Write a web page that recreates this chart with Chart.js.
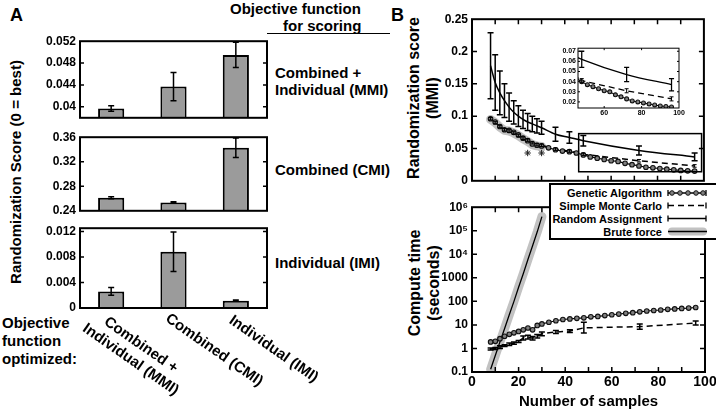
<!DOCTYPE html>
<html>
<head>
<meta charset="utf-8">
<script src="https://cdn.jsdelivr.net/npm/chart.js@4.4.1/dist/chart.umd.min.js"></script>
<style>
  body { margin: 0; width: 716px; height: 412px; overflow: hidden; background: #fff; position: relative;
         font-family: 'Liberation Sans', Arial, sans-serif; font-weight: bold; color: #000; }
  canvas { position: absolute; }
  .t { position: absolute; white-space: nowrap; font-weight: bold; font-size: 15px; line-height: 17px; }
  .rot { position: absolute; white-space: nowrap; text-align: center; transform: translate(-50%, -50%) rotate(-90deg); }
  #legend { position: absolute; left: 549px; top: 183px; width: 175px; height: 53px; border: 2px solid #000;
            background: #fff; font-size: 11px; line-height: 13px; }
  #legend .row { position: absolute; left: 0; width: 111px; text-align: right; }
</style>
</head>
<body>

<div class="t" style="left:10px;top:5px;font-size:18px;line-height:20px">A</div>
<div class="t" style="left:391px;top:5px;font-size:18px;line-height:20px">B</div>

<div class="t" style="left:230px;top:0px">Objective function</div>
<div class="t" style="left:283px;top:17px">for scoring</div>
<div style="position:absolute;left:267px;top:33px;width:123px;border-top:1.5px solid #000"></div>
<div class="t" style="left:275px;top:64px">Combined +</div>
<div class="t" style="left:275px;top:81px">Individual (MMI)</div>
<div class="t" style="left:275px;top:161px">Combined (CMI)</div>
<div class="t" style="left:275px;top:254px">Individual (IMI)</div>
<div class="t" style="left:2px;top:314px;line-height:17.8px">Objective<br>function<br>optimized:</div>

<div class="rot" style="left:15px;top:172px;font-size:15px">Randomization Score (0 = best)</div>
<div class="rot" style="left:423px;top:98px;font-size:16px;line-height:19px">Randomization score<br>(MMI)</div>
<div class="rot" style="left:424px;top:283px;font-size:16px;line-height:19px">Compute time<br>(seconds)</div>

<script>
// ---------- Panel A: bar data ----------
const barGroups = ['MMI', 'CMI', 'IMI'];
const barLabelLines = [['Combined +', 'Individual (MMI)'], ['Combined (CMI)'], ['Individual (IMI)']];

const mmiScore = [0.0397, 0.0437, 0.0495];
const mmiErr = [0.0005, 0.0026, 0.0023];
const cmiScore = [0.2613, 0.2537, 0.3427];
const cmiErr = [0.0018, 0.0012, 0.016];
const imiScore = [0.0026, 0.0088, 0.00115];
const imiErr = [0.0006, 0.0031, 0.0001];

const mmiTicks = [0.04, 0.044, 0.048, 0.052];
const mmiTickLabels = ['0.04', '0.044', '0.048', '0.052'];
const cmiTicks = [0.24, 0.28, 0.32, 0.36];
const cmiTickLabels = ['0.24', '0.28', '0.32', '0.36'];
const imiTicks = [0, 0.004, 0.008, 0.012];
const imiTickLabels = ['0', '0.004', '0.008', '0.012'];

// ---------- Panel B: randomization score ----------
const randX = [8, 10, 12, 14, 16, 18, 20, 22, 24, 26, 28, 30, 36, 42, 48, 72, 96];
const randScore = [0.178, 0.152, 0.136, 0.124, 0.114, 0.106, 0.100, 0.095, 0.091, 0.088, 0.085, 0.082, 0.072, 0.067, 0.062, 0.047, 0.037];
const randErr = [0.051, 0.043, 0.034, 0.026, 0.022, 0.018, 0.016, 0.014, 0.013, 0.012, 0.011, 0.010, 0.011, 0.009, 0.008, 0.007, 0.006];

const mcScore = [0.096, 0.090, 0.084, 0.079, 0.077, 0.074, 0.070, 0.066, 0.063, 0.059, 0.056, 0.055, 0.049, 0.046, 0.041, 0.031, 0.023];
const mcScoreErr = [0.002, 0.002, 0.002, 0.002, 0.002, 0.002, 0.002, 0.002, 0.002, 0.002, 0.002, 0.002, 0.002, 0.002, 0.002, 0.002, 0.002];

const gaX = [8, 10, 12, 14, 16, 18, 20, 22, 24, 26, 28, 30, 33, 36, 39, 42, 45, 48, 51, 54, 57, 60, 63, 66, 69, 72, 75, 78, 81, 84, 87, 90, 93, 96];
const gaScore = [0.096, 0.091, 0.084, 0.079, 0.078, 0.075, 0.071, 0.066, 0.062, 0.057, 0.055, 0.054, 0.051, 0.048, 0.046, 0.045, 0.043,
                 0.040, 0.037, 0.035, 0.033, 0.031, 0.030, 0.027, 0.025, 0.023, 0.021, 0.020, 0.019, 0.018, 0.017, 0.016, 0.0155, 0.015];

const bruteX = [8, 10, 12, 14, 16, 18, 20, 22, 24, 26, 28, 30];
const bruteScore = [0.095, 0.090, 0.083, 0.078, 0.077, 0.074, 0.070, 0.065, 0.061, 0.056, 0.054, 0.053];

const starX = [24, 30];
const starY = [0.043, 0.043];

const scoreTicks = [0, 0.05, 0.1, 0.15, 0.2, 0.25];
const scoreTickLabels = ['0', '0.05', '0.1', '0.15', '0.2', '0.25'];
const insetYTicks = [0.02, 0.03, 0.04, 0.05, 0.06, 0.07];
const insetYTickLabels = ['0.02', '0.03', '0.04', '0.05', '0.06', '0.07'];
const insetXTicks = [60, 80, 100];
const insetXTickLabels = ['60', '80', '100'];

// ---------- Panel B: compute time ----------
const gaTime = [1.9, 2.0, 2.6, 3.3, 4.0, 4.6, 5.3, 6.2, 7.4, 6.2, 9.5, 11, 13, 15, 17, 18, 19,
                20, 22, 23, 25, 27, 29, 31, 33, 36, 39, 41, 43, 46, 48, 50, 52, 55];
const mcTime = [0.95, 1.0, 1.15, 1.3, 1.5, 1.7, 2.0, 2.8, 3.0, 2.7, 3.3, 4.2, 5.0, 5.5, 7.5, 8.5, 12];
const mcTimeLo = [0.85, 0.9, 1.0, 1.2, 1.35, 1.5, 1.8, 2.3, 2.5, 2.3, 2.8, 3.5, 4.3, 4.8, 4.5, 6.5, 10];
const mcTimeHi = [1.05, 1.1, 1.3, 1.45, 1.7, 1.9, 2.2, 3.4, 3.6, 3.2, 3.9, 5.0, 5.8, 6.3, 13, 11, 14.5];
const bruteTime = [0.13, 0.5, 1.9, 7, 27, 100, 400, 1500, 6000, 23000, 90000, 400000];

const sampleTicks = [0, 10, 20, 30, 40, 50, 60, 70, 80, 90, 100];
const sampleTickLabels = ['0', '', '20', '', '40', '', '60', '', '80', '', '100'];
const timeTicks = [0.1, 1, 10, 100, 1000, 1e4, 1e5, 1e6];
const timeTickLabels = ['0.1', '1', '10', '100', '1000', '10\u2074', '10\u2075', '10\u2076'];

// ---------- shared setup ----------
const FONT = "'Liberation Sans', Arial, sans-serif";
Chart.defaults.font.family = FONT;
Chart.defaults.font.weight = 'bold';
Chart.defaults.color = '#000';

function makeCanvas(left, top, width, height) {
    const c = document.createElement('canvas');
    c.width = width;
    c.height = height;
    c.style.left = left + 'px';
    c.style.top = top + 'px';
    c.style.width = width + 'px';
    c.style.height = height + 'px';
    document.body.appendChild(c);
    return c;
}

function pts(xs, ys) {
    return xs.map((x, i) => ({ x: x, y: ys[i] }));
}

// box around the plot area, with tick marks pointing inwards
const framePlugin = {
    id: 'frame',
    afterDraw(chart, args, o) {
        const { ctx, chartArea: a, scales } = chart;
        ctx.save();
        ctx.strokeStyle = '#000';
        ctx.lineWidth = o.lineWidth;
        ctx.strokeRect(a.left, a.top, a.right - a.left, a.bottom - a.top);
        ctx.lineWidth = o.tickWidth;
        ctx.beginPath();
        (o.yTicks || []).forEach(v => {
            const y = scales.y.getPixelForValue(v);
            if (y < a.top + 1 || y > a.bottom - 1) return;
            ctx.moveTo(a.left, y); ctx.lineTo(a.left + o.tickLen, y);
            ctx.moveTo(a.right, y); ctx.lineTo(a.right - o.tickLen, y);
        });
        (o.xTicks || []).forEach(v => {
            const x = scales.x.getPixelForValue(v);
            if (x < a.left + 1 || x > a.right - 1) return;
            ctx.moveTo(x, a.bottom); ctx.lineTo(x, a.bottom - o.tickLen);
            if (o.topTicks) { ctx.moveTo(x, a.top); ctx.lineTo(x, a.top + o.tickLen); }
        });
        ctx.stroke();
        ctx.restore();
    }
};

// vertical error bars from dataset.errLo / dataset.errHi
const errorBarPlugin = {
    id: 'errorBars',
    afterDatasetsDraw(chart) {
        const { ctx, chartArea: a } = chart;
        ctx.save();
        ctx.beginPath();
        ctx.rect(a.left, a.top, a.right - a.left, a.bottom - a.top);
        ctx.clip();
        ctx.setLineDash([]);
        ctx.strokeStyle = '#000';
        chart.data.datasets.forEach((ds, i) => {
            if (!ds.errLo) return;
            const meta = chart.getDatasetMeta(i);
            const ys = chart.scales[meta.yAxisID];
            ctx.lineWidth = ds.errWidth || 1.5;
            const c = ds.capHalf || 3;
            ds.errLo.forEach((lo, j) => {
                const el = meta.data[j];
                if (!el) return;
                const x = el.x;
                const y1 = ys.getPixelForValue(lo);
                const y2 = ys.getPixelForValue(ds.errHi[j]);
                ctx.beginPath();
                ctx.moveTo(x, y1); ctx.lineTo(x, y2);
                ctx.moveTo(x - c, y1); ctx.lineTo(x + c, y1);
                ctx.moveTo(x - c, y2); ctx.lineTo(x + c, y2);
                ctx.stroke();
            });
        });
        ctx.restore();
    }
};

// slanted category names under the last bar panel
const slantLabelPlugin = {
    id: 'slantLabels',
    afterDraw(chart, args, o) {
        const { ctx } = chart;
        const xs = chart.scales.x;
        ctx.save();
        ctx.font = o.font;
        ctx.fillStyle = '#000';
        ctx.textAlign = 'center';
        ctx.textBaseline = 'top';
        o.labels.forEach((lines, i) => {
            ctx.save();
            ctx.translate(xs.getPixelForValue(i) + o.dx[i], o.dy[i]);
            ctx.rotate(o.angle);
            lines.forEach((t, k) => ctx.fillText(t, 0, k * o.lineHeight));
            ctx.restore();
        });
        ctx.restore();
    }
};

// rectangle marking the region that the inset enlarges
const zoomRectPlugin = {
    id: 'zoomRect',
    afterDatasetsDraw(chart, args, o) {
        const { ctx, scales } = chart;
        const x1 = scales.x.getPixelForValue(o.xMin), x2 = scales.x.getPixelForValue(o.xMax);
        const y1 = scales.y.getPixelForValue(o.yMax), y2 = scales.y.getPixelForValue(o.yMin);
        ctx.save();
        ctx.strokeStyle = '#000';
        ctx.lineWidth = 1.5;
        ctx.strokeRect(x1, y1, x2 - x1, y2 - y1);
        ctx.restore();
    }
};

function fixedTicks(values, labels) {
    return {
        afterBuildTicks: s => { s.ticks = values.map(v => ({ value: v })); },
        ticks: {
            autoSkip: false, maxRotation: 0,
            callback: (v, i) => labels[i]
        }
    };
}

// ---------- Panel A charts ----------
function barPanel(top, height, width, padBottom, values, errs, yMin, yMax, ticks, tickLabels, extra) {
    const canvas = makeCanvas(30, top, width, height);
    const yt = fixedTicks(ticks, tickLabels);
    return new Chart(canvas, {
        type: 'bar',
        data: {
            labels: barGroups,
            datasets: [{
                data: values,
                backgroundColor: '#9b9b9b',
                borderColor: '#000',
                borderWidth: 2,
                barPercentage: 0.42,
                categoryPercentage: 1,
                errLo: values.map((v, i) => v - errs[i]),
                errHi: values.map((v, i) => v + errs[i]),
                errWidth: 1.5,
                capHalf: 3
            }]
        },
        options: {
            responsive: false,
            devicePixelRatio: 1,
            animation: false,
            events: [],
            // plot box is always 187 px wide, starting 50 px into the canvas
            layout: { padding: { top: 8, right: width - 237, bottom: padBottom, left: 0 } },
            plugins: {
                legend: { display: false },
                tooltip: { enabled: false },
                frame: { lineWidth: 2, tickWidth: 1.5, tickLen: 4, yTicks: ticks },
                slantLabels: extra || false
            },
            scales: {
                x: { display: false },
                y: {
                    min: yMin, max: yMax,
                    afterFit: s => { s.width = 50; },
                    afterBuildTicks: yt.afterBuildTicks,
                    grid: { display: false, drawTicks: false },
                    border: { display: false },
                    ticks: Object.assign({ padding: 4, font: { size: 12, weight: 'bold' } }, yt.ticks)
                }
            }
        },
        plugins: extra ? [framePlugin, errorBarPlugin, slantLabelPlugin] : [framePlugin, errorBarPlugin]
    });
}

barPanel(30, 99, 241, 8, mmiScore, mmiErr, 0.038, 0.052, mmiTicks, mmiTickLabels);
barPanel(126, 96, 241, 8, cmiScore, cmiErr, 0.24, 0.36, cmiTicks, cmiTickLabels);
barPanel(217, 195, 340, 104, imiScore, imiErr, 0, 0.0125, imiTicks, imiTickLabels, {
    labels: barLabelLines,
    font: "bold 15px " + FONT,
    lineHeight: 17.8,
    angle: 35 * Math.PI / 180,
    dx: [34, 45, 42],
    dy: [122, 127, 126]
});

// ---------- Panel B: score datasets ----------
function scoreDatasets(small) {
    const r = small ? 0.85 : 1;
    return [
        {
            type: 'scatter',
            data: pts(starX, starY),
            pointStyle: 'star', pointRadius: small ? 0 : 3.2,
            borderColor: '#222', borderWidth: 1, showLine: false
        },
        {
            data: pts(gaX, gaScore),
            borderColor: '#000', borderWidth: 1.2 * r,
            pointRadius: 2.3 * r, pointBackgroundColor: '#808080',
            pointBorderColor: '#111', pointBorderWidth: 1.1
        },
        {
            data: pts(randX, mcScore),
            borderColor: '#000', borderWidth: 1.5 * r, borderDash: [6, 4],
            pointRadius: 0,
            errLo: mcScore.map((v, i) => v - mcScoreErr[i]),
            errHi: mcScore.map((v, i) => v + mcScoreErr[i]),
            errWidth: 1, capHalf: 2
        },
        {
            data: pts(randX, randScore),
            borderColor: '#000', borderWidth: 1.5 * r, pointRadius: 0,
            tension: 0.4, cubicInterpolationMode: 'monotone',
            errLo: randScore.map((v, i) => v - randErr[i]),
            errHi: randScore.map((v, i) => v + randErr[i]),
            errWidth: 1.5 * r, capHalf: 3 * r
        },
        {
            data: pts(bruteX, bruteScore),
            borderColor: '#c2c2c2', borderWidth: small ? 0 : 9,
            borderCapStyle: 'round', borderJoinStyle: 'round', pointRadius: 0
        }
    ];
}

// main score chart
new Chart(makeCanvas(400, 8, 309, 184), {
    type: 'line',
    data: { datasets: scoreDatasets(false) },
    options: {
        responsive: false, devicePixelRatio: 1, animation: false, events: [],
        layout: { padding: { top: 8, right: 4, bottom: 8, left: 0 } },
        plugins: {
            legend: { display: false }, tooltip: { enabled: false },
            frame: { lineWidth: 2, tickWidth: 1.5, tickLen: 5, topTicks: true,
                     xTicks: sampleTicks, yTicks: scoreTicks },
            zoomRect: { xMin: 46, xMax: 99, yMin: 0.014, yMax: 0.073 }
        },
        scales: {
            x: { type: 'linear', min: 0, max: 100, display: false },
            y: {
                min: 0, max: 0.25,
                afterFit: s => { s.width = 72; },
                afterBuildTicks: fixedTicks(scoreTicks, scoreTickLabels).afterBuildTicks,
                grid: { display: false, drawTicks: false },
                border: { display: false },
                ticks: Object.assign({ padding: 4, font: { size: 12, weight: 'bold' } },
                                     fixedTicks(scoreTicks, scoreTickLabels).ticks)
            }
        }
    },
    plugins: [framePlugin, errorBarPlugin, zoomRectPlugin]
});

// inset
new Chart(makeCanvas(556, 42, 131, 76), {
    type: 'line',
    data: { datasets: scoreDatasets(true) },
    options: {
        responsive: false, devicePixelRatio: 1, animation: false, events: [],
        layout: { padding: { top: 6, right: 8, bottom: 0, left: 0 } },
        plugins: {
            legend: { display: false }, tooltip: { enabled: false },
            frame: { lineWidth: 1, tickWidth: 1, tickLen: 2, topTicks: true,
                     xTicks: insetXTicks, yTicks: insetYTicks }
        },
        scales: {
            x: {
                type: 'linear', min: 46, max: 100,
                afterFit: s => { s.height = 10; },
                afterBuildTicks: fixedTicks(insetXTicks, insetXTickLabels).afterBuildTicks,
                grid: { display: false, drawTicks: false },
                border: { display: false },
                ticks: Object.assign({ padding: 1, font: { size: 7, weight: 'bold' } },
                                     fixedTicks(insetXTicks, insetXTickLabels).ticks)
            },
            y: {
                min: 0.014, max: 0.073,
                afterFit: s => { s.width = 22; },
                afterBuildTicks: fixedTicks(insetYTicks, insetYTickLabels).afterBuildTicks,
                grid: { display: false, drawTicks: false },
                border: { display: false },
                ticks: Object.assign({ padding: 2, font: { size: 7, weight: 'bold' } },
                                     fixedTicks(insetYTicks, insetYTickLabels).ticks)
            }
        }
    },
    plugins: [framePlugin, errorBarPlugin]
});

// ---------- Panel B: compute time ----------
new Chart(makeCanvas(400, 196, 319, 216), {
    type: 'line',
    data: {
        datasets: [
            {
                data: pts(gaX, gaTime),
                borderColor: '#000', borderWidth: 1.2,
                pointRadius: 2.3, pointBackgroundColor: '#808080',
                pointBorderColor: '#111', pointBorderWidth: 1.1
            },
            {
                data: pts(randX, mcTime),
                borderColor: '#000', borderWidth: 1.5, borderDash: [6, 4], pointRadius: 0,
                errLo: mcTimeLo, errHi: mcTimeHi, errWidth: 1.5, capHalf: 3
            },
            {
                data: pts(bruteX, bruteTime),
                borderColor: '#000', borderWidth: 1.3, pointRadius: 0
            },
            {
                data: pts(bruteX, bruteTime),
                borderColor: '#c2c2c2', borderWidth: 9,
                borderCapStyle: 'round', borderJoinStyle: 'round', pointRadius: 0
            }
        ]
    },
    options: {
        responsive: false, devicePixelRatio: 1, animation: false, events: [],
        layout: { padding: { top: 8, right: 14, bottom: 0, left: 0 } },
        plugins: {
            legend: { display: false }, tooltip: { enabled: false },
            frame: { lineWidth: 2, tickWidth: 1.5, tickLen: 5, topTicks: true,
                     xTicks: sampleTicks, yTicks: timeTicks }
        },
        scales: {
            x: {
                type: 'linear', min: 0, max: 100,
                afterFit: s => { s.height = 40; },
                afterBuildTicks: fixedTicks(sampleTicks, sampleTickLabels).afterBuildTicks,
                grid: { display: false, drawTicks: false },
                border: { display: false },
                ticks: Object.assign({ padding: 2, font: { size: 14, weight: 'bold' } },
                                     fixedTicks(sampleTicks, sampleTickLabels).ticks),
                title: { display: true, text: 'Number of samples',
                         font: { size: 15, weight: 'bold' }, padding: { top: 0, bottom: 1 } }
            },
            y: {
                type: 'logarithmic', min: 0.1, max: 1e6,
                afterFit: s => { s.width = 72; },
                afterBuildTicks: fixedTicks(timeTicks, timeTickLabels).afterBuildTicks,
                grid: { display: false, drawTicks: false },
                border: { display: false },
                ticks: Object.assign({ padding: 4, font: { size: 12, weight: 'bold' } },
                                     fixedTicks(timeTicks, timeTickLabels).ticks)
            }
        }
    },
    plugins: [framePlugin, errorBarPlugin]
});
</script>

<div id="legend">
  <div class="row" style="top:1.5px">Genetic Algorithm</div>
  <div class="row" style="top:14.5px">Simple Monte Carlo</div>
  <div class="row" style="top:27.5px">Random Assignment</div>
  <div class="row" style="top:40.5px">Brute force</div>
  <svg style="position:absolute;left:115px;top:0" width="44" height="53">
    <g stroke="#000" stroke-width="1.3" fill="none">
      <line x1="2" y1="8" x2="40" y2="8"/>
      <line x1="2" y1="5" x2="2" y2="11"/><line x1="40" y1="5" x2="40" y2="11"/>
      <line x1="2" y1="20.5" x2="40" y2="20.5" stroke-dasharray="6,4"/>
      <line x1="2" y1="17.5" x2="2" y2="23.5"/><line x1="40" y1="17.5" x2="40" y2="23.5"/>
      <line x1="2" y1="33.5" x2="40" y2="33.5"/>
      <line x1="2" y1="30.5" x2="2" y2="36.5"/><line x1="40" y1="30.5" x2="40" y2="36.5"/>
    </g>
    <g fill="#808080" stroke="#111" stroke-width="1">
      <circle cx="6" cy="8" r="2.3"/><circle cx="14" cy="8" r="2.3"/><circle cx="22" cy="8" r="2.3"/>
      <circle cx="30" cy="8" r="2.3"/><circle cx="37" cy="8" r="2.3"/>
    </g>
    <line x1="6" y1="46.5" x2="37" y2="46.5" stroke="#c2c2c2" stroke-width="8" stroke-linecap="round"/>
    <line x1="2" y1="46.5" x2="41" y2="46.5" stroke="#000" stroke-width="1.5"/>
  </svg>
</div>

</body>
</html>
